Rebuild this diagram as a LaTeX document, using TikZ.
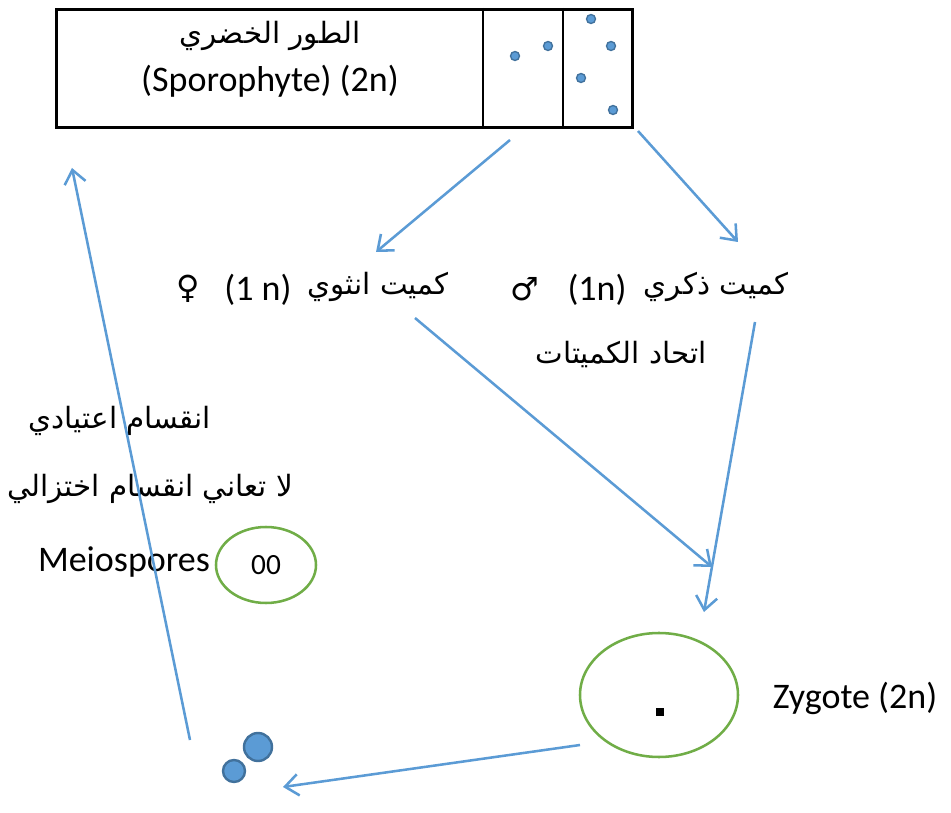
\documentclass[tikz,border=0pt]{standalone}
\usepackage{fontspec}
\setmainfont{Carlito}
\newfontfamily\arabicfont[Script=Arabic]{DejaVu Sans}
\newfontfamily\symfont{DejaVu Sans}
\TeXXeTstate=1
\usetikzlibrary{arrows.meta,shapes.geometric}
\definecolor{arrblue}{HTML}{5B9BD5}
\definecolor{ellgreen}{HTML}{70AD47}
\definecolor{dotedge}{HTML}{41719C}
\begin{document}
\begin{tikzpicture}[x=0.75pt,y=-0.75pt,
  lat/.style={font=\fontsize{27}{32}\selectfont, inner sep=0pt},
  ar/.style={font=\arabicfont\fontsize{22}{28}\selectfont, inner sep=0pt},
  sym/.style={font=\symfont\fontsize{24}{28}\selectfont, inner sep=0pt},
  flow/.style={draw=arrblue, line width=1.9pt, -{Straight Barb[length=10pt,width=16pt,line width=1.9pt]}},
  cell/.style={draw=dotedge, fill=arrblue, line width=1pt},
  spore/.style={circle, draw=dotedge, fill=arrblue, line width=1.8pt, inner sep=0pt},
  oval/.style={ellipse, draw=ellgreen, line width=1.9pt, inner sep=0pt}
]
\useasboundingbox (0,0) rectangle (951,813);

% sporophyte box
\node[draw, line width=1.9pt, minimum width=432pt, minimum height=88.5pt, inner sep=0pt, anchor=north west] (box) at (55,8) {};
\draw[line width=1.9pt] (483,8) -- (483,126);
\draw[line width=1.9pt] (563,8) -- (563,126);
\node[ar] (title) at (270,36) {\beginR الطور الخضري\endR};
\node[lat] (spor) at (270,81) {(Sporophyte) (2n)};
\foreach \p in {(515,56),(548,46),(591,19),(611,46),(581,78),(613,110)}
  \fill[cell] \p circle (4.5);

% gametes
\node[sym] (fsym) at (188,289) {♀};
\node[lat] (fn) at (258,290) {(1 n)};
\node[ar] (far) at (378,287) {\beginR كميت انثوي\endR};
\node[sym] (msym) at (525,289) {♂};
\node[lat] (mn) at (597,290) {(1n)};
\node[ar] (mar) at (716,287) {\beginR كميت ذكري\endR};
\node[ar] (union) at (621,355) {\beginR اتحاد الكميتات\endR};

% left texts
\node[ar] (mito) at (120,421) {\beginR انقسام اعتيادي\endR};
\node[ar] (nomei) at (150,489) {\beginR لا تعاني انقسام اختزالي\endR};
\node[lat] (meio) at (124,562) {Meiospores};
\node[oval, minimum width=75pt, minimum height=57pt, font=\fontsize{22}{24}\selectfont] (msp) at (266,565) {00};

% zygote
\node[oval, minimum width=118.5pt, minimum height=93pt] (zyg) at (659,695) {};
\node[fill=black, inner sep=0pt, minimum size=6pt] (nuc) at (660,712) {};
\node[lat] (zlab) at (855,698) {Zygote (2n)};

% spores
\node[spore, minimum size=21pt] (sbig) at (258,747) {};
\node[spore, minimum size=16.5pt] (ssmall) at (234,771) {};

% connector ends
\coordinate (a1s) at (510,140); \coordinate (a1e) at (376,252);
\coordinate (a2s) at (638,131); \coordinate (a2e) at (738,242);
\coordinate (a3s) at (415,318); \coordinate (a3e) at (712,567);
\coordinate (a4s) at (755,322); \coordinate (a4e) at (704,612);
\coordinate (a5s) at (580,745); \coordinate (a5e) at (283,787);
\coordinate (a6s) at (190,740); \coordinate (a6e) at (72,168);

\draw[flow] (a1s) -- (a1e);
\draw[flow] (a2s) -- (a2e);
\draw[flow] (a3s) -- (a3e);
\draw[flow] (a4s) -- (a4e);
\draw[flow] (a5s) -- (a5e);
\draw[flow] (a6s) -- (a6e);
\end{tikzpicture}
\end{document}
